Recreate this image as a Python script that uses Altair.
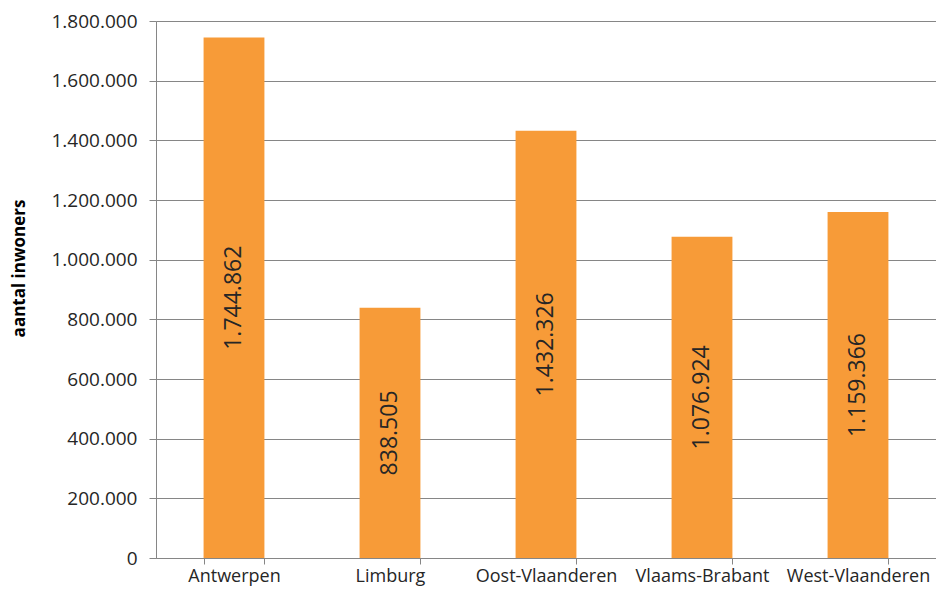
import altair as alt
import pandas as pd

provinces = ["Antwerpen", "Limburg", "Oost-Vlaanderen", "Vlaams-Brabant", "West-Vlaanderen"]
inhabitants = [1744862, 838505, 1432326, 1076924, 1159366]
y_ticks = [0, 200000, 400000, 600000, 800000, 1000000, 1200000, 1400000, 1600000, 1800000]

df = pd.DataFrame({"provincie": provinces, "inwoners": inhabitants})

FONT = "Open Sans"
GRAY = "#868686"
TEXT = "#262626"
ORANGE = "#F79B38"

x_enc = alt.X(
    "provincie:N",
    sort=provinces,
    scale=alt.Scale(paddingInner=0.61, paddingOuter=0.305),
    axis=alt.Axis(
        title=None,
        labelAngle=0,
        labelFont=FONT,
        labelFontSize=18,
        labelColor=TEXT,
        labelPadding=3,
        labelBaseline="top",
        tickBand="extent",
        tickSize=6,
        tickColor=GRAY,
        domainColor=GRAY,
        grid=False,
    ),
)

y_scale = alt.Scale(domain=[0, 1800000], nice=False)

base = alt.Chart(df)

bars = base.mark_bar(color=ORANGE).encode(
    x=x_enc,
    y=alt.Y(
        "inwoners:Q",
        scale=y_scale,
        axis=alt.Axis(
            title="aantal inwoners",
            titleFont=FONT,
            titleFontSize=17,
            titleFontWeight="bold",
            titleColor="#000000",
            titleAngle=-90,
            titleAlign="center",
            titleBaseline="middle",
            titleX=-137,
            titleY=247,
            values=y_ticks,
            labelExpr="replace(format(datum.value, ',d'), regexp(',', 'g'), '.')",
            labelFont=FONT,
            labelFontSize=19,
            labelColor=TEXT,
            labelPadding=12,
            tickSize=7,
            tickColor=GRAY,
            domainColor=GRAY,
            gridColor=GRAY,
            gridWidth=1,
        ),
    ),
)

labels = base.transform_calculate(
    mid="datum.inwoners / 2",
    lab="replace(format(datum.inwoners, ',d'), regexp(',', 'g'), '.')",
).mark_text(
    angle=270, font=FONT, fontSize=23, color=TEXT, align="center", baseline="middle"
).encode(
    x=alt.X("provincie:N", sort=provinces),
    y=alt.Y("mid:Q", scale=y_scale),
    text="lab:N",
)

chart = (
    alt.layer(bars, labels)
    .properties(
        width=780,
        height=537,
        autosize=alt.AutoSizeParams(type="none"),
        padding={"left": 148, "top": 13, "right": 0, "bottom": 32},
    )
    .configure_view(stroke=None)
    .configure(background="white")
)

chart.save("out.html", embed_options={"renderer": "svg", "actions": False})
